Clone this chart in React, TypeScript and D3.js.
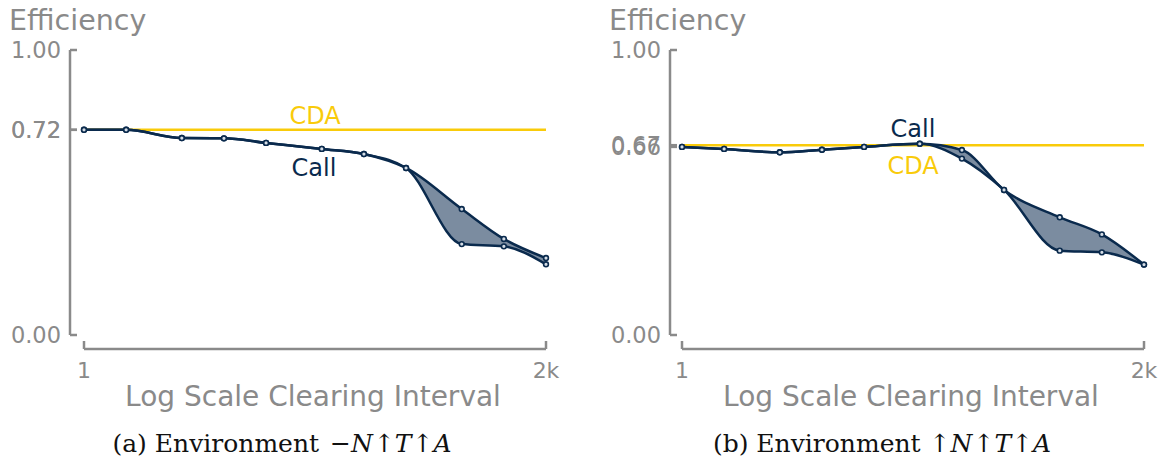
import React from "react";
import * as d3 from "d3";

const intervals = [1, 2, 5, 10, 20, 50, 100, 200, 500, 1000, 2000];

const leftUpper = [0.72, 0.72, 0.691, 0.69, 0.674, 0.653, 0.635, 0.586, 0.442, 0.337, 0.27];
const leftLower = [0.72, 0.72, 0.691, 0.69, 0.674, 0.653, 0.635, 0.586, 0.319, 0.311, 0.248];
const leftCDA = 0.72;

const rightUpper = [0.66, 0.653, 0.641, 0.65, 0.66, 0.671, 0.649, 0.509, 0.413, 0.353, 0.247];
const rightLower = [0.66, 0.653, 0.641, 0.65, 0.66, 0.671, 0.619, 0.509, 0.296, 0.29, 0.247];
const rightCDA = 0.666;

const xTickValues = [1, 2000];
const xTickLabels = ["1", "2k"];

const NAVY = "#0a2a4d";
const FILL = "#7b8ca0";
const GOLD = "#f9cb0a";
const GRAY = "#8a8a8a";
const SANS = "'DejaVu Sans', sans-serif";
const SERIF = "'DejaVu Serif', serif";

type PanelProps = {
  axisX: number;
  x0: number;
  x1: number;
  upper: number[];
  lower: number[];
  cda: number;
  cdaLabel: [number, number];
  callLabel: [number, number];
  caption: React.ReactNode;
  captionX: number;
};

function Panel(p: PanelProps) {
  const x = d3.scaleLog().domain([1, 2000]).range([p.x0, p.x1]);
  const y = d3.scaleLinear().domain([0, 1]).range([335, 50]);
  const line = d3
    .line<number>()
    .x((_, i) => x(intervals[i]))
    .y((d) => y(d))
    .curve(d3.curveMonotoneX);
  const area = d3
    .area<number>()
    .x((_, i) => x(intervals[i]))
    .y0((_, i) => y(p.lower[i]))
    .y1((d) => y(d))
    .curve(d3.curveMonotoneX);
  const yTicks = [0, p.lower[0], p.cda, 1];
  const fmt = d3.format(".2f");
  return (
    <g>
      <text x={p.axisX - 61} y={30} fontFamily={SANS} fontSize={28.5} fill={GRAY}>
        Efficiency
      </text>
      {/* y axis */}
      <line x1={p.axisX} x2={p.axisX} y1={y(1)} y2={y(0)} stroke={GRAY} strokeWidth={2.5} />
      {yTicks.map((t, i) => (
        <g key={i}>
          <line x1={p.axisX} x2={p.axisX + 7} y1={y(t)} y2={y(t)} stroke={GRAY} strokeWidth={2.5} />
          <text
            x={p.axisX - 9}
            y={y(t)}
            dy="0.36em"
            textAnchor="end"
            fontFamily={SANS}
            fontSize={22.5}
            fill={GRAY}
          >
            {fmt(t)}
          </text>
        </g>
      ))}
      {/* x axis */}
      <line x1={p.x0} x2={p.x1} y1={349} y2={349} stroke={GRAY} strokeWidth={2.5} />
      {xTickValues.map((t, i) => (
        <g key={i}>
          <line x1={x(t)} x2={x(t)} y1={349} y2={341} stroke={GRAY} strokeWidth={2.5} />
          <text x={x(t)} y={378} textAnchor="middle" fontFamily={SANS} fontSize={22} fill={GRAY}>
            {xTickLabels[i]}
          </text>
        </g>
      ))}
      <text
        x={(p.x0 + p.x1) / 2 - 2}
        y={406}
        textAnchor="middle"
        fontFamily={SANS}
        fontSize={28}
        fill={GRAY}
      >
        Log Scale Clearing Interval
      </text>
      {/* CDA line */}
      <line x1={p.x0} x2={p.x1} y1={y(p.cda)} y2={y(p.cda)} stroke={GOLD} strokeWidth={2.5} />
      {/* band */}
      <path d={area(p.upper) || ""} fill={FILL} stroke="none" />
      <path d={line(p.upper) || ""} fill="none" stroke={NAVY} strokeWidth={2.5} />
      <path d={line(p.lower) || ""} fill="none" stroke={NAVY} strokeWidth={2.5} />
      {[p.upper, p.lower].map((s, si) =>
        s.map((v, i) => (
          <circle
            key={`${si}-${i}`}
            cx={x(intervals[i])}
            cy={y(v)}
            r={2.4}
            fill="#d5dde6"
            stroke={NAVY}
            strokeWidth={1.6}
          />
        ))
      )}
      <text x={p.cdaLabel[0]} y={p.cdaLabel[1]} textAnchor="middle" fontFamily={SANS} fontSize={24} fill={GOLD}>
        CDA
      </text>
      <text x={p.callLabel[0]} y={p.callLabel[1]} textAnchor="middle" fontFamily={SANS} fontSize={24} fill={NAVY}>
        Call
      </text>
      <text x={p.captionX} y={452} textAnchor="middle" fontFamily={SERIF} fontSize={25} fill="#111">
        {p.caption}
      </text>
    </g>
  );
}

export default function App() {
  return (
    <svg width={1173} height={468} style={{ display: "block", position: "absolute", left: 0, top: 0 }}>
      <rect width={1173} height={468} fill="#fff" />
      <Panel
        axisX={70}
        x0={84}
        x1={546}
        upper={leftUpper}
        lower={leftLower}
        cda={leftCDA}
        cdaLabel={[315, 124]}
        callLabel={[314, 176]}
        captionX={282}
        caption={
          <>
            <tspan>(a) Environment</tspan>
            <tspan dx={11}>−</tspan>
            <tspan fontStyle="italic">N</tspan>
            <tspan dx={1}>↑</tspan>
            <tspan fontStyle="italic">T</tspan>
            <tspan dx={1}>↑</tspan>
            <tspan fontStyle="italic">A</tspan>
          </>
        }
      />
      <Panel
        axisX={670}
        x0={682}
        x1={1144}
        upper={rightUpper}
        lower={rightLower}
        cda={rightCDA}
        cdaLabel={[913, 174]}
        callLabel={[913, 137]}
        captionX={882}
        caption={
          <>
            <tspan>(b) Environment</tspan>
            <tspan dx={9}>↑</tspan>
            <tspan fontStyle="italic">N</tspan>
            <tspan dx={1}>↑</tspan>
            <tspan fontStyle="italic">T</tspan>
            <tspan dx={1}>↑</tspan>
            <tspan fontStyle="italic">A</tspan>
          </>
        }
      />
    </svg>
  );
}
